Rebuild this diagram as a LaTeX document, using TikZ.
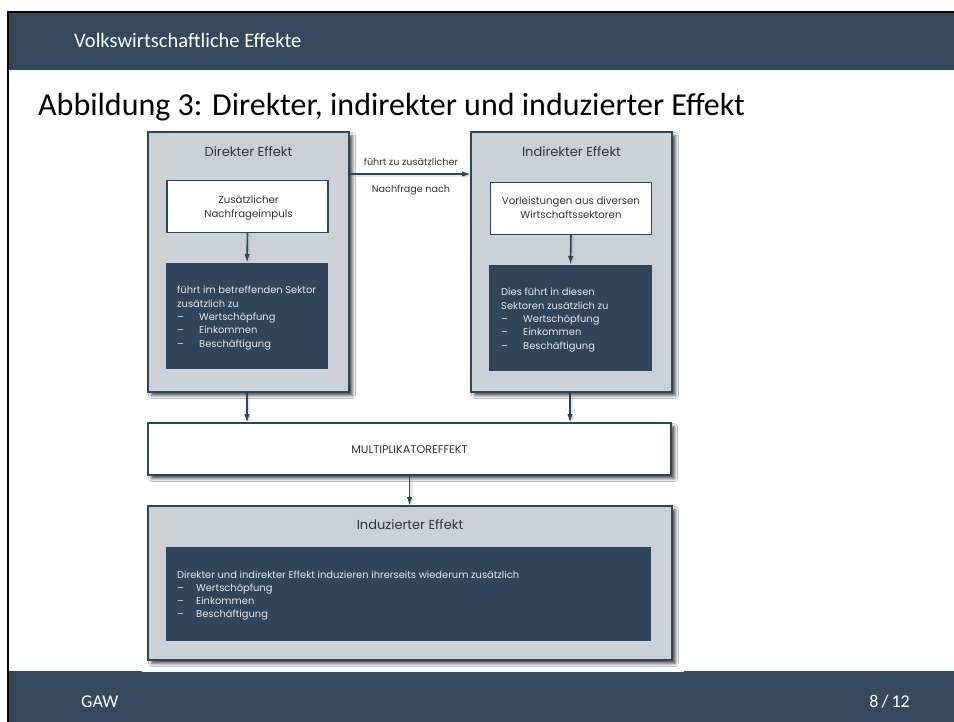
\documentclass[tikz,border=0pt]{standalone}
\usepackage{fontspec}
\setmainfont{Carlito}
\newfontfamily\diagfont{Poppins}
\usetikzlibrary{arrows.meta,shadows.blur}
\definecolor{slate}{HTML}{34495E}
\definecolor{boxdark}{HTML}{2F4559}
\definecolor{boxline}{HTML}{2E4457}
\definecolor{panel}{HTML}{CBD0D7}
\definecolor{darktext}{HTML}{E6EAEE}
\definecolor{labeltext}{HTML}{333333}

\begin{document}
\begin{tikzpicture}[x=1pt,y=-1pt,
  softshadow/.style={blur shadow={shadow xshift=3.5pt, shadow yshift=-3.5pt,
      shadow blur radius=3pt, shadow opacity=70}},
  panelbox/.style={draw=boxline, line width=2pt, fill=panel, inner sep=0pt,
      outer sep=0pt, softshadow},
  whitebox/.style={draw=boxline, line width=1.8pt, fill=white, inner sep=0pt,
      outer sep=0pt},
  darkbox/.style={fill=boxdark, inner sep=0pt, outer sep=0pt},
  paneltitle/.style={anchor=base, inner sep=0pt, text=labeltext,
      font=\diagfont\fontsize{13}{15}\selectfont},
  boxtext/.style={anchor=base, inner sep=0pt, text=labeltext, align=center,
      font=\diagfont\fontsize{10.2}{13.5}\selectfont},
  darktxt/.style={anchor=base west, inner sep=0pt, text=darktext,
      font=\diagfont\fontsize{9.9}{13.3}\selectfont},
  arrlabel/.style={anchor=base, inner sep=0pt, text=labeltext,
      font=\diagfont\fontsize{9.6}{11}\selectfont},
  arr/.style={draw=boxline, line width=1.6pt,
      -{Latex[length=9pt,width=5.5pt]},
      preaction={draw=black!40, opacity=.22, line width=2.8pt,
        transform canvas={shift={(1.8pt,-1.8pt)}}}},
  slidetext/.style={inner sep=0pt, text=white, font=\fontsize{18}{22}\selectfont}
]
\newcommand{\itm}[1]{\makebox[22pt][l]{–}#1}

% page frame
\useasboundingbox (0,0) rectangle (954,722);
\fill[white] (0,0) rectangle (954,722);
\fill[black] (7,11) rectangle (9,722);
\fill[black] (7,11) rectangle (954,13);
\fill[slate] (9,13) rectangle (954,70);
\fill[slate] (9,671) rectangle (954,722);
\fill[white] (142,669.5) rectangle (684,672);

% header, title and footer
\node[slidetext, anchor=base west, font=\fontsize{20.5}{24}\selectfont]
  (hdr) at (74,48) {Volkswirtschaftliche Effekte};
\node[inner sep=0pt, anchor=base west, font=\fontsize{32}{36}\selectfont]
  (ttl) at (38,116) {Abbildung 3: Direkter, indirekter und induzierter Effekt};
\node[slidetext, anchor=base west] (ftl) at (81,707) {GAW};
\node[slidetext, anchor=base east] (ftr) at (910,707) {8\,/\,12};

% outer panels
\node[panelbox, minimum width=201pt, minimum height=260pt] (dir) at (248.5,262) {};
\node[panelbox, minimum width=201pt, minimum height=260pt] (ind) at (571.5,262) {};
\node[panelbox, minimum width=523pt, minimum height=52pt, fill=white] (mult) at (409.5,449) {};
\node[panelbox, minimum width=524pt, minimum height=154pt] (indu) at (410,583) {};

% panel titles
\node[paneltitle] (dirT) at (248.5,157) {Direkter Effekt};
\node[paneltitle] (indT) at (571.5,157) {Indirekter Effekt};
\node[paneltitle] (induT) at (410,529) {Induzierter Effekt};
\node[arrlabel, font=\diagfont\fontsize{11.2}{13}\selectfont] (multT) at (409.5,453.5) {MULTIPLIKATOREFFEKT};

% inner boxes
\node[whitebox, minimum width=161pt, minimum height=52pt] (dirW) at (247.5,206.5) {};
\node[whitebox, minimum width=161pt, minimum height=52pt] (indW) at (571,208.5) {};
\node[darkbox, minimum width=162pt, minimum height=106pt] (dirD) at (247,316) {};
\node[darkbox, minimum width=163pt, minimum height=106pt] (indD) at (570.5,318) {};
\node[darkbox, minimum width=485pt, minimum height=94pt] (induD) at (408.5,594) {};

% inner texts
\node[boxtext] (dirW1) at (248.5,204) {Zusätzlicher};
\node[boxtext] (dirW2) at (248.5,217.5) {Nachfrageimpuls};
\node[boxtext] (indW1) at (571,205) {Vorleistungen aus diversen};
\node[boxtext] (indW2) at (571,219) {Wirtschaftssektoren};

\node[darktxt] (dirDt) at (177,294) {\parbox[t]{150pt}{\raggedright
  führt im betreffenden Sektor\\ zusätzlich zu\\
  \itm{Wertschöpfung}\\ \itm{Einkommen}\\ \itm{Beschäftigung}}};
\node[darktxt] (indDt) at (501,296) {\parbox[t]{150pt}{\raggedright
  Dies führt in diesen\\ Sektoren zusätzlich zu\\
  \itm{Wertschöpfung}\\ \itm{Einkommen}\\ \itm{Beschäftigung}}};
\node[darktxt] (induDt) at (177,578) {\parbox[t]{460pt}{\raggedright
  Direkter und indirekter Effekt induzieren ihrerseits wiederum zusätzlich\\
  \makebox[19pt][l]{–}Wertschöpfung\\ \makebox[19pt][l]{–}Einkommen\\
  \makebox[19pt][l]{–}Beschäftigung}};

% arrow labels
\node[arrlabel] (lab1) at (411,166) {führt zu zusätzlicher};
\node[arrlabel] (lab2) at (411,193) {Nachfrage nach};

% connectors
\draw[arr] (dirW.south) -- (dirD.north);
\draw[arr] (indW.south) -- (indD.north);
\draw[arr] ([yshift=-42pt]dir.north east) -- ([yshift=-42pt]ind.north west);
\draw[arr] ([xshift=-1.5pt]dir.south) -- ([xshift=-1.5pt]dir.south |- mult.north);
\draw[arr] ([xshift=-1.5pt]ind.south) -- ([xshift=-1.5pt]ind.south |- mult.north);
\draw[arr] (mult.south) -- (mult.south |- indu.north);
\end{tikzpicture}
\end{document}
